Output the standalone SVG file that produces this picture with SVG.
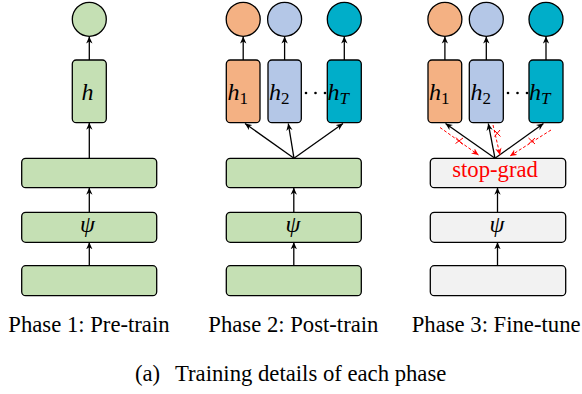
<svg xmlns="http://www.w3.org/2000/svg" width="582" height="394" viewBox="0 0 582 394">
<defs>
<style>
.box{stroke:#000;stroke-width:1.3}
.g{fill:#C5E0B4}.o{fill:#F4B183}.b{fill:#B4C7E7}.t{fill:#00AEC9}.gr{fill:#F2F2F2}
.ar{stroke:#000;stroke-width:1.3;fill:none;marker-end:url(#ah)}
.rd{stroke:#FF0000;stroke-width:1;fill:none;stroke-dasharray:3 2;marker-end:url(#rh)}
.x{stroke:#FF0000;stroke-width:1;fill:none}
.m{font-family:"Liberation Serif","DejaVu Serif",serif;font-style:italic;font-size:24px;fill:#000}
.s{font-family:"Liberation Serif","DejaVu Serif",serif;font-size:17px}
.lab{font-family:"Liberation Serif","Times New Roman",serif;font-size:22.7px;fill:#000}
</style>
<marker id="ah" viewBox="0 0 10 10" refX="10" refY="5" markerWidth="7" markerHeight="7" markerUnits="userSpaceOnUse" orient="auto">
<path d="M0,0.5 L10,5 L0,9.5 L3,5 z" fill="#000"/>
</marker>
<marker id="rh" viewBox="0 0 10 10" refX="10" refY="5" markerWidth="7" markerHeight="7" markerUnits="userSpaceOnUse" orient="auto">
<path d="M0,0.5 L10,5 L0,9.5 L3,5 z" fill="#FF0000"/>
</marker>
</defs>

<g id="connectors">
<line class="ar" x1="89.3" y1="60" x2="89.3" y2="36.5"/>
<line class="ar" x1="89.3" y1="158.3" x2="89.3" y2="122.7"/>
<line class="ar" x1="89.3" y1="212.3" x2="89.3" y2="187.7"/>
<line class="ar" x1="89.3" y1="265.7" x2="89.3" y2="242.3"/>
<line class="ar" x1="243.2" y1="60" x2="243.2" y2="36.5"/>
<line class="ar" x1="284.6" y1="60" x2="284.6" y2="36.5"/>
<line class="ar" x1="344.3" y1="60" x2="344.3" y2="36.5"/>
<line class="ar" x1="294" y1="158.3" x2="245" y2="123.5"/>
<line class="ar" x1="294" y1="158.3" x2="288.3" y2="123.5"/>
<line class="ar" x1="294" y1="158.3" x2="343" y2="123.5"/>
<line class="ar" x1="293.8" y1="212.3" x2="293.8" y2="187.7"/>
<line class="ar" x1="293.8" y1="265.7" x2="293.8" y2="242.3"/>
<line class="ar" x1="444.9" y1="60" x2="444.9" y2="36.5"/>
<line class="ar" x1="486.3" y1="60" x2="486.3" y2="36.5"/>
<line class="ar" x1="546" y1="60" x2="546" y2="36.5"/>
<line class="ar" x1="495" y1="158.3" x2="445.5" y2="123.5"/>
<line class="ar" x1="495" y1="158.3" x2="488.3" y2="123.5"/>
<line class="ar" x1="495" y1="158.3" x2="543.5" y2="123.5"/>
<line class="ar" x1="497.5" y1="212.3" x2="497.5" y2="187.7"/>
<line class="ar" x1="497.5" y1="265.7" x2="497.5" y2="242.3"/>
<line class="rd" x1="440" y1="127.5" x2="478.5" y2="155"/>
<line class="rd" x1="493" y1="125" x2="500" y2="155"/>
<line class="rd" x1="551" y1="130" x2="510" y2="156"/>
<path class="x" d="M456,137.5 L462.5,144.5 M455.5,143.5 L463,138"/>
<path class="x" d="M494,130 L500.5,136.5 M494.5,136.5 L500,130"/>
<path class="x" d="M528.5,138 L535,144 M528.5,144 L535,138"/>
</g>

<g id="p1-out"><circle class="box g" cx="89.3" cy="19.3" r="17"/></g>
<g id="p1-h"><rect class="box g" x="72.3" y="60" width="34" height="62.7" rx="4"/><text class="m" x="87.5" y="99.5" text-anchor="middle">h</text></g>
<g id="p1-l3"><rect class="box g" x="21.7" y="158.3" width="135" height="29.4" rx="4"/></g>
<g id="p1-psi"><rect class="box g" x="21.7" y="212.3" width="135" height="30" rx="4"/><text class="m" x="87.5" y="232" text-anchor="middle">ψ</text></g>
<g id="p1-l1"><rect class="box g" x="21.7" y="265.7" width="135" height="30" rx="4"/></g>

<g id="p2-out1"><circle class="box o" cx="243.2" cy="19.3" r="17"/></g>
<g id="p2-out2"><circle class="box b" cx="284.6" cy="19.3" r="17"/></g>
<g id="p2-outT"><circle class="box t" cx="344.3" cy="19.3" r="17"/></g>
<g id="p2-h1"><rect class="box o" x="226.3" y="60" width="33.7" height="62.7" rx="4"/><text class="m" x="227.5" y="99.5">h<tspan class="s" font-style="normal" dy="4">1</tspan></text></g>
<g id="p2-h2"><rect class="box b" x="268" y="60" width="33.3" height="62.7" rx="4"/><text class="m" x="269" y="99.5">h<tspan class="s" font-style="normal" dy="4">2</tspan></text></g>
<g id="p2-dots"><circle cx="306" cy="93" r="1.3"/><circle cx="315.5" cy="93" r="1.3"/><circle cx="325" cy="93" r="1.3"/></g>
<g id="p2-hT"><rect class="box t" x="327.3" y="60" width="34" height="62.7" rx="4"/><text class="m" x="327.5" y="99.5">h<tspan class="s" dy="4">T</tspan></text></g>
<g id="p2-l3"><rect class="box g" x="226.3" y="158.3" width="135" height="29.4" rx="4"/></g>
<g id="p2-psi"><rect class="box g" x="226.3" y="212.3" width="135" height="30" rx="4"/><text class="m" x="293" y="232" text-anchor="middle">ψ</text></g>
<g id="p2-l1"><rect class="box g" x="226.3" y="265.7" width="135" height="30" rx="4"/></g>

<g id="p3-out1"><circle class="box o" cx="444.9" cy="19.3" r="17"/></g>
<g id="p3-out2"><circle class="box b" cx="486.3" cy="19.3" r="17"/></g>
<g id="p3-outT"><circle class="box t" cx="546" cy="19.3" r="17"/></g>
<g id="p3-h1"><rect class="box o" x="428" y="60" width="33.7" height="62.7" rx="4"/><text class="m" x="429" y="99.5">h<tspan class="s" font-style="normal" dy="4">1</tspan></text></g>
<g id="p3-h2"><rect class="box b" x="469.3" y="60" width="34" height="62.7" rx="4"/><text class="m" x="470.5" y="99.5">h<tspan class="s" font-style="normal" dy="4">2</tspan></text></g>
<g id="p3-dots"><circle cx="508" cy="93" r="1.3"/><circle cx="517.5" cy="93" r="1.3"/><circle cx="527" cy="93" r="1.3"/></g>
<g id="p3-hT"><rect class="box t" x="529" y="60" width="34" height="62.7" rx="4"/><text class="m" x="529" y="99.5">h<tspan class="s" dy="4">T</tspan></text></g>
<g id="p3-sg"><rect class="box gr" x="430.3" y="158.3" width="135.4" height="29.4" rx="4"/><text class="lab" x="495" y="177" text-anchor="middle" style="fill:#FF0000">stop-grad</text></g>
<g id="p3-psi"><rect class="box gr" x="430.3" y="212.3" width="135.4" height="30" rx="4"/><text class="m" x="497" y="232" text-anchor="middle">ψ</text></g>
<g id="p3-l1"><rect class="box gr" x="430.3" y="265.7" width="135.4" height="30" rx="4"/></g>

<g id="labels">
<text class="lab" x="8.3" y="331.7">Phase 1: Pre-train</text>
<text class="lab" x="208.3" y="331.7">Phase 2: Post-train</text>
<text class="lab" x="411.7" y="331.7">Phase 3: Fine-tune</text>
<text class="lab" x="135" y="381">(a)</text>
<text class="lab" x="175" y="381">Training details of each phase</text>
</g>
</svg>
